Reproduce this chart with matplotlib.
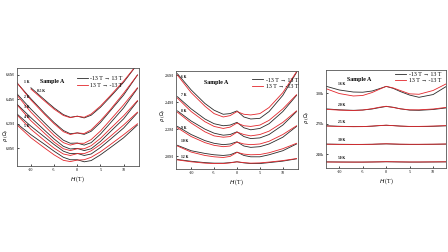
import numpy as np
import matplotlib
matplotlib.use('Agg')
import matplotlib.pyplot as plt

plt.rcParams['font.family'] = ['Liberation Serif', 'DejaVu Serif']

nan = np.nan
field = [-13, -10, -7, -5, -3, -1.5, 0, 1.5, 3, 5, 7, 10, 13]

# panel 1, rho in MOhm
temps1 = ['0.5 K', '1 K', '2 K', '3 K', '4 K', '5 K']
up1 = [
    [nan, 6.495, 6.395, 6.33, 6.275, 6.253, 6.262, 6.248, 6.27, 6.335, 6.415, 6.54, 6.69],
    [6.535, 6.405, 6.285, 6.21, 6.145, 6.118, 6.125, 6.113, 6.138, 6.21, 6.30, 6.435, 6.60],
    [6.445, 6.32, 6.205, 6.13, 6.065, 6.04, 6.042, 6.025, 6.045, 6.115, 6.20, 6.33, 6.49],
    [6.36, 6.25, 6.145, 6.075, 6.015, 5.993, 5.998, 5.98, 5.995, 6.055, 6.13, 6.24, 6.385],
    [6.28, 6.18, 6.09, 6.03, 5.975, 5.955, 5.957, 5.94, 5.952, 6.005, 6.068, 6.165, 6.29],
    [6.20, 6.11, 6.03, 5.975, 5.925, 5.905, 5.905, 5.888, 5.898, 5.945, 6.00, 6.085, 6.19],
]
down1 = [
    [nan, 6.485, 6.385, 6.32, 6.268, 6.25, 6.262, 6.253, 6.28, 6.345, 6.425, 6.55, 6.69],
    [6.535, 6.395, 6.275, 6.20, 6.135, 6.112, 6.125, 6.12, 6.15, 6.225, 6.31, 6.45, 6.60],
    [6.435, 6.295, 6.18, 6.105, 6.045, 6.025, 6.04, 6.04, 6.07, 6.14, 6.225, 6.355, 6.495],
    [6.355, 6.225, 6.12, 6.05, 5.995, 5.98, 5.995, 5.995, 6.02, 6.08, 6.155, 6.265, 6.39],
    [6.272, 6.155, 6.06, 6.0, 5.952, 5.94, 5.955, 5.955, 5.978, 6.03, 6.092, 6.19, 6.295],
    [6.19, 6.085, 6.0, 5.945, 5.90, 5.89, 5.902, 5.905, 5.925, 5.97, 6.025, 6.11, 6.20],
]
tlab1 = [(-8.75, 6.467), (-11.5, 6.543), (-11.5, 6.418), (-11.5, 6.336), (-11.5, 6.255), (-11.5, 6.181)]
yticks1 = [6.0, 6.2, 6.4, 6.6]
ylabels1 = ['6.0M', '6.2M', '6.4M', '6.6M']

# panel 2, rho in MOhm
temps2 = ['6 K', '7 K', '8 K', '9 K', '10 K', '12 K']
up2 = [
    [2.61, 2.49, 2.39, 2.34, 2.31, 2.315, 2.335, 2.29, 2.275, 2.28, 2.33, 2.45, 2.62],
    [2.44, 2.35, 2.275, 2.24, 2.225, 2.23, 2.25, 2.21, 2.195, 2.205, 2.24, 2.33, 2.45],
    [2.335, 2.26, 2.20, 2.17, 2.155, 2.16, 2.18, 2.145, 2.13, 2.135, 2.16, 2.23, 2.33],
    [2.22, 2.16, 2.115, 2.095, 2.085, 2.09, 2.106, 2.075, 2.065, 2.07, 2.09, 2.14, 2.22],
    [2.08, 2.04, 2.02, 2.01, 2.005, 2.01, 2.03, 2.005, 1.995, 1.995, 2.01, 2.04, 2.09],
    [1.975, 1.962, 1.952, 1.948, 1.948, 1.952, 1.958, 1.95, 1.945, 1.945, 1.952, 1.963, 1.98],
]
down2 = [
    [2.60, 2.47, 2.37, 2.315, 2.29, 2.30, 2.33, 2.31, 2.305, 2.315, 2.36, 2.47, 2.625],
    [2.43, 2.33, 2.255, 2.22, 2.205, 2.215, 2.245, 2.225, 2.22, 2.23, 2.265, 2.35, 2.455],
    [2.325, 2.245, 2.18, 2.15, 2.14, 2.145, 2.178, 2.16, 2.15, 2.16, 2.185, 2.25, 2.335],
    [2.21, 2.145, 2.10, 2.08, 2.07, 2.075, 2.104, 2.09, 2.085, 2.09, 2.11, 2.16, 2.225],
    [2.075, 2.03, 2.005, 1.995, 1.99, 1.998, 2.028, 2.015, 2.01, 2.012, 2.025, 2.055, 2.095],
    [1.972, 1.958, 1.948, 1.945, 1.945, 1.95, 1.958, 1.952, 1.948, 1.95, 1.956, 1.967, 1.982],
]
tlab2 = [(-12.2, 2.587), (-12.2, 2.452), (-12.2, 2.336), (-12.2, 2.205), (-12.2, 2.113), (-12.2, 1.99)]
yticks2 = [2.0, 2.2, 2.4, 2.6]
ylabels2 = ['2.0M', '2.2M', '2.4M', '2.6M']

# panel 3, rho in kOhm
temps3 = ['16 K', '20 K', '25 K', '30 K', '50 K']
up3 = [
    [306.9, 303.0, 301.0, 300.8, 302.0, 304.2, 306.5, 304.6, 301.5, 298.0, 295.8, 298.5, 307.0],
    [284.5, 283.5, 283.0, 283.3, 284.3, 285.6, 286.8, 286.0, 284.5, 283.2, 283.0, 283.8, 285.5],
    [267.8, 267.3, 267.0, 267.0, 267.4, 267.9, 268.3, 268.0, 267.5, 267.1, 267.0, 267.3, 267.8],
    [249.8, 249.6, 249.5, 249.5, 249.6, 249.8, 250.0, 249.8, 249.6, 249.5, 249.5, 249.6, 249.8],
    [232.3, 232.2, 232.1, 232.1, 232.2, 232.3, 232.4, 232.3, 232.2, 232.1, 232.1, 232.2, 232.3],
]
down3 = [
    [304.6, 299.5, 297.1, 297.6, 300.5, 303.6, 306.6, 305.0, 302.5, 299.2, 298.8, 302.5, 309.5],
    [284.0, 283.2, 282.8, 283.3, 284.6, 286.0, 287.0, 285.8, 284.5, 283.5, 283.5, 284.3, 286.0],
    [267.6, 267.1, 266.9, 267.0, 267.5, 268.0, 268.4, 267.9, 267.5, 267.2, 267.2, 267.5, 268.0],
    [249.7, 249.5, 249.4, 249.5, 249.6, 249.9, 250.1, 249.9, 249.7, 249.6, 249.6, 249.7, 249.9],
    [232.2, 232.1, 232.1, 232.1, 232.2, 232.3, 232.5, 232.4, 232.3, 232.2, 232.2, 232.3, 232.4],
]
tlab3 = [(-10.3, 308.9), (-10.3, 288.2), (-10.3, 271.5), (-10.3, 253.8), (-10.3, 236.0)]
yticks3 = [240, 270, 300]
ylabels3 = ['240k', '270k', '300k']

xticks = [-10, -5, 0, 5, 10]
BLACK = '#2a2a2a'
RED = '#e3262b'

panels = [
    dict(rect=[0.038, 0.341, 0.272, 0.389], xlim=(-13.0, 13.3), ylim=(5.853, 6.657),
         up=up1, down=down1, temps=temps1, tlab=tlab1, yt=yticks1, yl=ylabels1,
         sample=(0.287, 0.867), leg=(0.49, 0.915), ylab=(-0.06, 0.31)),
    dict(rect=[0.393, 0.329, 0.272, 0.389], xlim=(-13.3, 13.3), ylim=(1.904, 2.63),
         up=up2, down=down2, temps=temps2, tlab=tlab2, yt=yticks2, yl=ylabels2,
         sample=(0.33, 0.88), leg=(0.625, 0.935), ylab=(-0.075, 0.55)),
    dict(rect=[0.728, 0.333, 0.268, 0.389], xlim=(-12.8, 12.8), ylim=(226.2, 322.6),
         up=up3, down=down3, temps=temps3, tlab=tlab3, yt=yticks3, yl=ylabels3,
         sample=(0.275, 0.90), leg=(0.575, 0.985), ylab=(-0.13, 0.52)),
]

fig = plt.figure(figsize=(4.48, 2.52), dpi=100)

for p in panels:
    ax = fig.add_axes(p['rect'])
    for i in range(len(p['up'])):
        lb, = ax.plot(field, p['up'][i], color=BLACK, lw=0.6)
        lr, = ax.plot(field, p['down'][i], color=RED, lw=0.6)
        ax.text(p['tlab'][i][0], p['tlab'][i][1], p['temps'][i], fontsize=2.6,
                ha='left', va='center', fontweight='bold')
    lb.set_label('-13 T \u2192 13 T')
    lr.set_label('13 T \u2192 -13 T')
    ax.set_xlim(*p['xlim'])
    ax.set_ylim(*p['ylim'])
    ax.set_xticks(xticks)
    ax.set_xticklabels([str(t) for t in xticks])
    ax.set_yticks(p['yt'])
    ax.set_yticklabels(p['yl'])
    ax.tick_params(direction='in', length=1.5, width=0.5, labelsize=3, pad=1.5)
    for s in ax.spines.values():
        s.set_linewidth(0.6)
        s.set_color('#555555')
    ax.set_xlabel('$H$ (T)', fontsize=4.2, labelpad=1.5)
    ax.set_ylabel('$\\rho$ ($\\Omega$)', fontsize=3.6, labelpad=1)
    ax.yaxis.set_label_coords(p['ylab'][0], p['ylab'][1])
    ax.text(p['sample'][0], p['sample'][1], 'Sample A', transform=ax.transAxes,
            fontsize=4.3, ha='center', va='center', fontweight='bold')
    ax.legend(loc='upper left', bbox_to_anchor=p['leg'], frameon=False, fontsize=4.2,
              handlelength=1.9, handletextpad=0.4, borderpad=0, borderaxespad=0,
              labelspacing=0.25)

fig.savefig('out.png', dpi=100)
